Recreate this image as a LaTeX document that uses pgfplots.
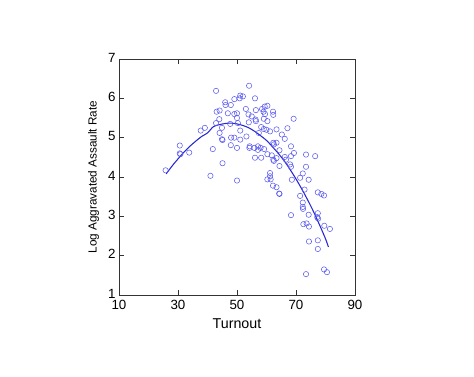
\documentclass[border=0pt]{standalone}
\usepackage{pgfplots}
\pgfplotsset{compat=1.18}
\usepackage{fontspec}
\setmainfont{Liberation Sans}
\definecolor{pt}{RGB}{90,90,240}
\definecolor{ln}{RGB}{40,40,210}
\begin{document}
\begin{tikzpicture}[x=0.75pt,y=0.75pt]
\useasboundingbox (-119,-82) rectangle ++(474,377);
\begin{axis}[
  at={(0,0)}, anchor=south west,
  scale only axis, width=177pt, height=177pt,
  xmin=10, xmax=90, ymin=1, ymax=7,
  xtick={10,30,50,70,90}, ytick={1,2,3,4,5,6,7},
  tick align=inside, major tick length=4pt,
  axis line style={line width=0.6pt, black!80},
  every tick/.style={black!80, line width=0.6pt},
  /pgf/number format/assume math mode=true,
  tick label style={font=\fontsize{10}{11}\selectfont},
  xticklabel style={yshift=0pt},
  yticklabel style={xshift=1pt, yshift=1pt},
  xlabel={Turnout}, ylabel={Log Aggravated Assault Rate},
  xlabel style={font=\fontsize{10.7}{12}\selectfont, yshift=0pt},
  ylabel style={font=\fontsize{8.8}{10}\selectfont, yshift=0pt},
]
\addplot[only marks, mark=o, mark size=2pt, mark options={pt, line width=0.4pt}] coordinates {
(54.1,6.32)(42.9,6.19)(51.1,6.07)(52.0,6.05)(50.9,6.0)(56.1,6.0)(49.1,5.98)
(46.0,5.9)(46.1,5.83)(47.9,5.83)(53.0,5.73)(56.4,5.7)(58.5,5.73)(59.4,5.79)(60.3,5.81)
(43.1,5.66)(44.1,5.69)(46.9,5.62)(49.1,5.6)(50.0,5.62)(53.9,5.59)(55.0,5.54)
(62.2,5.66)(62.3,5.58)(59.0,5.66)(59.5,5.6)(50.0,5.5)(44.0,5.47)(54.0,5.39)
(56.3,5.46)(56.4,5.42)(59.1,5.48)(60.3,5.42)(69.2,5.48)(42.9,5.37)(47.7,5.35)(50.3,5.37)
(58.2,5.27)(59.1,5.22)(60.0,5.2)(61.2,5.16)(63.4,5.21)(67.1,5.24)(37.7,5.18)(39.1,5.25)
(44.1,5.12)(51.1,5.18)(57.4,5.12)(44.9,5.25)(65.2,5.08)(53.2,5.03)(44.9,4.96)(45.1,4.94)
(48.0,5.0)(49.1,5.0)(66.2,4.97)(51.1,4.95)(62.3,4.87)(62.5,4.83)(63.4,4.87)(47.9,4.81)
(54.3,4.78)(54.2,4.74)(55.9,4.74)(57.1,4.78)(58.0,4.74)(50.0,4.74)(57.1,4.69)(59.2,4.71)
(64.4,4.68)(68.3,4.78)(69.3,4.61)(41.8,4.71)(30.6,4.80)(30.6,4.60)(30.8,4.58)(33.8,4.62)
(25.8,4.17)(45.1,4.35)(56.1,4.49)(58.2,4.49)(60.3,4.58)(61.8,4.55)(62.3,4.44)(62.5,4.41)
(63.4,4.48)(66.2,4.51)(66.6,4.44)(68.3,4.53)(64.4,4.28)(68.0,4.32)(68.3,4.26)(73.4,4.57)
(76.5,4.53)(73.4,4.26)(41.0,4.03)(50.0,3.91)(60.3,3.94)(61.2,4.02)(61.4,3.94)(61.2,4.10)
(68.6,3.93)(71.4,3.98)(72.3,4.09)(74.3,3.93)(62.2,3.78)(63.4,3.74)(64.3,3.58)(64.4,3.57)
(71.4,3.52)(72.9,3.68)(77.4,3.61)(78.6,3.57)(79.5,3.53)(72.3,3.35)(72.3,3.24)(72.4,3.19)
(68.3,3.03)(74.3,3.04)(77.4,3.08)(77.2,2.98)(77.5,2.94)(72.5,2.80)(73.6,2.82)(74.4,2.74)
(79.6,2.76)(81.5,2.68)(74.4,2.36)(77.4,2.39)(77.4,2.17)(73.4,1.53)(79.5,1.65)(80.5,1.58)
};
\addplot[ln, line width=0.8pt, smooth] coordinates {
(26,4.08)(28,4.28)(30,4.46)(32,4.63)(34,4.78)(36,4.91)(38,5.03)(40,5.12)(42,5.28)
(44,5.33)(46,5.36)(48,5.37)(50,5.35)(52,5.31)(54,5.25)(56,5.16)(58,5.05)(60,4.93)
(62,4.77)(64,4.60)(66,4.41)(68,4.19)(70,3.95)(72,3.69)(74,3.41)(76,3.11)(78,2.78)
(80,2.43)(81,2.22)
};
\end{axis}
\end{tikzpicture}
\end{document}
